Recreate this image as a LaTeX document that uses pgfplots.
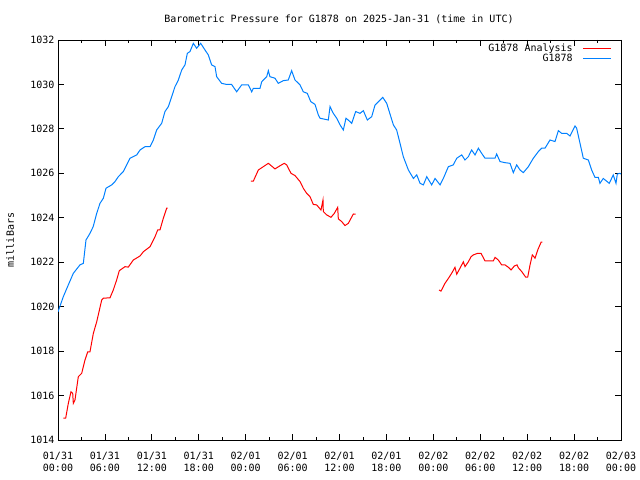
\documentclass[border=0pt]{standalone}
\usepackage{fontspec}
\setmainfont{DejaVu Sans Mono}
\usepackage{pgfplots}
\pgfplotsset{compat=1.18}
\definecolor{gblue}{RGB}{0,128,255}
\definecolor{gred}{RGB}{255,0,0}
\newcommand{\gf}{\fontsize{10bp}{12bp}\selectfont}
\begin{document}
\begin{tikzpicture}
\useasboundingbox (0,0) rectangle (640bp,480bp);
\begin{axis}[
  at={(58bp,40bp)}, anchor=south west,
  scale only axis, width=563bp, height=400bp,
  xmin=0, xmax=72, ymin=1014, ymax=1032,
  xtick={0,6,...,72},
  xticklabels={{01/31\\00:00},{01/31\\06:00},{01/31\\12:00},{01/31\\18:00},{02/01\\00:00},{02/01\\06:00},{02/01\\12:00},{02/01\\18:00},{02/02\\00:00},{02/02\\06:00},{02/02\\12:00},{02/02\\18:00},{02/03\\00:00}},
  minor x tick num=1,
  ytick={1014,1016,...,1032},
  tick align=inside,
  major tick length=6bp, minor tick length=3bp,
  tick style={black, line width=0.8bp},
  axis line style={line width=0.9bp},
  every tick label/.append style={font=\gf},
  xticklabel style={align=center, yshift=-9bp},
  /pgf/number format/assume math mode=true,
  /pgf/number format/1000 sep={},
  unbounded coords=jump,
  legend plot pos=right,
  legend cell align=right,
  legend style={at={(1,1)}, anchor=north east, xshift=-8bp, yshift=-1bp, draw=none, fill=none, font=\gf, row sep=-3bp, inner sep=1bp},
  legend image code/.code={\path (-8bp,0bp); \draw[#1, line width=1.2bp] (0bp,0bp) -- (28bp,0bp);},
]
\addplot[color=gred, line width=1bp] coordinates {
(0.68,1014.98) (0.98,1014.98) (1.32,1015.65) (1.66,1016.17) (1.88,1016.1) (1.96,1015.65) (2.17,1015.8) (2.6,1016.85) (3.03,1017.0) (3.45,1017.6) (3.8,1017.97) (4.09,1017.97) (4.52,1018.8) (4.95,1019.32) (5.59,1020.3) (5.8,1020.38) (6.65,1020.4) (7.07,1020.75) (7.5,1021.2) (7.84,1021.62) (8.57,1021.8) (8.99,1021.78) (9.63,1022.1) (10.49,1022.28) (10.91,1022.47) (11.77,1022.7) (12.41,1023.15) (12.75,1023.45) (13.04,1023.45) (13.47,1023.98) (13.9,1024.43) (14.03,1024.43)
(14.5,nan)
(24.68,1025.65) (24.98,1025.65) (25.62,1026.15) (26.26,1026.3) (26.9,1026.45) (27.75,1026.2) (28.39,1026.34) (28.94,1026.45) (29.24,1026.38) (29.8,1026.0) (30.31,1025.9) (30.95,1025.63) (31.37,1025.33) (31.8,1025.1) (32.23,1024.95) (32.65,1024.6) (33.08,1024.58) (33.63,1024.35) (33.89,1024.8) (33.93,1024.28) (34.36,1024.13) (34.91,1024.02) (35.34,1024.2) (35.77,1024.47) (35.85,1023.95) (36.28,1023.83) (36.7,1023.65) (37.13,1023.75) (37.77,1024.17) (38.07,1024.16)
(40,nan)
(48.73,1020.75) (48.98,1020.7) (49.49,1021.05) (49.92,1021.27) (50.34,1021.5) (50.77,1021.77) (50.99,1021.46) (51.41,1021.73) (51.84,1022.02) (52.05,1021.8) (52.48,1022.02) (52.83,1022.25) (53.12,1022.33) (53.67,1022.4) (54.1,1022.4) (54.61,1022.06) (55.67,1022.06) (55.89,1022.22) (56.31,1022.1) (56.74,1021.88) (57.17,1021.88) (57.6,1021.77) (57.94,1021.65) (58.36,1021.83) (58.7,1021.88) (58.87,1021.75) (59.3,1021.58) (59.81,1021.33) (60.07,1021.33) (60.37,1021.88) (60.66,1022.33) (61.01,1022.18) (61.35,1022.55) (61.78,1022.9) (61.95,1022.9)
};
\addlegendentry{G1878 Analysis}
\addplot[color=gblue, line width=1bp] coordinates {
(0,1019.77) (0.68,1020.45) (1.32,1020.98) (1.96,1021.5) (2.81,1021.88) (3.24,1021.95) (3.58,1023.0) (4.09,1023.3) (4.5,1023.6) (4.95,1024.2) (5.37,1024.65) (5.8,1024.88) (6.14,1025.33) (6.87,1025.48) (7.29,1025.63) (7.72,1025.85) (8.35,1026.08) (8.79,1026.38) (9.21,1026.68) (10.07,1026.83) (10.49,1027.05) (11.13,1027.2) (11.77,1027.2) (12.19,1027.5) (12.62,1027.95) (13.26,1028.25) (13.68,1028.78) (14.11,1029.0) (14.54,1029.45) (14.96,1029.9) (15.39,1030.2) (15.82,1030.65) (16.24,1030.88) (16.54,1031.4) (16.88,1031.48) (17.31,1031.85) (17.73,1031.63) (18.25,1031.85) (18.8,1031.55) (19.22,1031.33) (19.65,1030.88) (20.08,1030.8) (20.29,1030.35) (20.93,1030.05) (21.57,1030.0) (22.2,1030.0) (22.85,1029.67) (23.49,1029.98) (24.34,1029.98) (24.77,1029.67) (24.98,1029.82) (25.83,1029.82) (26.05,1030.12) (26.69,1030.35) (26.9,1030.62) (27.1,1030.35) (27.75,1030.28) (28.17,1030.05) (28.81,1030.17) (29.45,1030.2) (29.88,1030.62) (30.31,1030.2) (30.95,1029.98) (31.37,1029.67) (31.88,1029.6) (32.32,1029.23) (32.87,1029.1) (33.29,1028.63) (33.5,1028.48) (34.57,1028.4) (34.79,1029.0) (35.21,1028.7) (35.64,1028.48) (36.07,1028.18) (36.49,1027.95) (36.83,1028.48) (37.34,1028.33) (37.56,1028.25) (38.07,1028.78) (38.62,1028.7) (39.05,1028.82) (39.56,1028.4) (40.12,1028.55) (40.54,1029.07) (40.97,1029.22) (41.53,1029.42) (42.04,1029.15) (42.3,1028.85) (42.89,1028.18) (43.31,1027.95) (43.74,1027.35) (44.16,1026.75) (44.81,1026.15) (45.45,1025.77) (45.88,1025.93) (46.3,1025.55) (46.73,1025.48) (47.16,1025.85) (47.79,1025.48) (48.22,1025.77) (48.86,1025.48) (49.28,1025.77) (49.92,1026.3) (50.56,1026.38) (50.99,1026.68) (51.63,1026.83) (52.05,1026.6) (52.48,1026.75) (52.9,1027.05) (53.33,1026.83) (53.76,1027.13) (54.18,1026.9) (54.61,1026.68) (55.25,1026.68) (55.89,1026.68) (56.1,1026.87) (56.53,1026.53) (57.17,1026.48) (57.81,1026.45) (58.23,1026.03) (58.66,1026.38) (59.09,1026.15) (59.51,1026.03) (60.15,1026.3) (60.79,1026.68) (61.43,1026.98) (61.86,1027.13) (62.28,1027.13) (62.92,1027.5) (63.56,1027.43) (63.99,1027.92) (64.41,1027.8) (65.05,1027.8) (65.48,1027.68) (66.12,1028.13) (66.33,1028.03) (66.76,1027.35) (67.18,1026.68) (67.82,1026.6) (68.25,1026.15) (68.67,1025.82) (69.1,1025.82) (69.31,1025.55) (69.73,1025.77) (70.5,1025.55) (71.01,1025.93) (71.36,1025.55) (71.53,1025.97) (71.87,1026.0) (72,1025.97)
};
\addlegendentry{G1878}
\end{axis}
\node[font=\gf] at (339bp,461bp) {Barometric Pressure for G1878 on 2025-Jan-31 (time in UTC)};
\node[font=\gf, rotate=90] at (10bp,240bp) {milliBars};
\end{tikzpicture}
\end{document}
